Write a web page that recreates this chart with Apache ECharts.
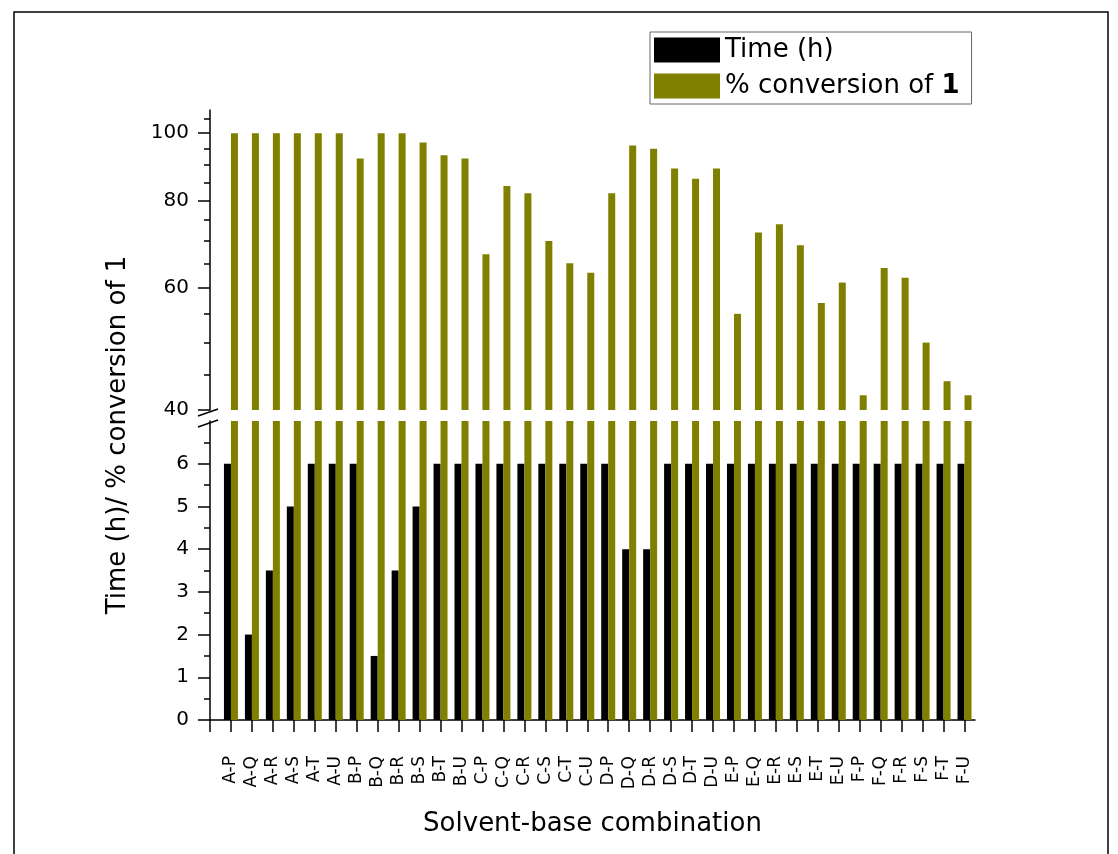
<!DOCTYPE html>
<html>
<head>
<meta charset="UTF-8">
<title>Solvent-base combination</title>
<script src="https://cdn.jsdelivr.net/npm/echarts@6/dist/echarts.min.js"></script>
<style>
  html, body { margin: 0; padding: 0; background: #fff; }
  #chart { width: 1118px; height: 854px; }
</style>
</head>
<body>
<div id="chart"></div>
<script type="text/javascript">

  // data
  var categories = ['A-P','A-Q','A-R','A-S','A-T','A-U',
                    'B-P','B-Q','B-R','B-S','B-T','B-U',
                    'C-P','C-Q','C-R','C-S','C-T','C-U',
                    'D-P','D-Q','D-R','D-S','D-T','D-U',
                    'E-P','E-Q','E-R','E-S','E-T','E-U',
                    'F-P','F-Q','F-R','F-S','F-T','F-U'];
  var timeH = [6, 2, 3.5, 5, 6, 6,
               6, 1.5, 3.5, 5, 6, 6,
               6, 6, 6, 6, 6, 6,
               6, 4, 4, 6, 6, 6,
               6, 6, 6, 6, 6, 6,
               6, 6, 6, 6, 6, 6];
  var conversion = [100, 100, 100, 100, 100, 100,
                    92, 100, 100, 97, 93, 92,
                    67, 84, 82, 70, 65, 63,
                    82, 96, 95, 89, 86, 89,
                    55, 72, 74, 69, 57, 61,
                    42, 64, 62, 50, 44, 42];
  var upperTicks = [40, 60, 80, 100];
  var upperMinorTicks = [45, 50, 55, 65, 70, 75, 85, 90, 95, 105];
  var lowerTicks = [0, 1, 2, 3, 4, 5, 6];

  var timeName = 'Time (h)',
      convName = '% conversion of 1',
      font = 'DejaVu Sans';

  // bars sit on a value x axis, category i at position i+1
  var xPos = [0], labelPos = [];
  var timePairs = [], convPairs = [];
  for (var i = 0; i < categories.length; i++) {
    xPos.push(i + 1);
    labelPos.push(i + 1);
    timePairs.push([i + 1, timeH[i]]);
    convPairs.push([i + 1, conversion[i]]);
  }

  var axisLine = { show: true, lineStyle: { color: '#000', width: 1.5 } };
  var tickLine = { color: '#000', width: 1.5 };

  var myChart = echarts.init(document.getElementById('chart'));

  var option = {
      animation: false,
      backgroundColor: '#fff',
      textStyle: { fontFamily: font },
      legend: {
          orient: 'vertical',
          left: 650,
          top: 32,
          padding: [5, 12, 5, 4],
          itemWidth: 66,
          itemHeight: 25,
          itemGap: 10,
          itemStyle: { borderWidth: 0 },
          icon: 'rect',
          borderColor: '#666',
          borderWidth: 1,
          data: [timeName, convName],
          formatter: function (name) {
              return name === convName ? '% conversion of {b|1}' : name;
          },
          textStyle: {
              fontFamily: font, fontSize: 26, color: '#000',
              rich: { b: { fontFamily: font, fontSize: 26, fontWeight: 'bold', color: '#000' } }
          }
      },
      grid: [
          { left: 210, right: 143, top: 110, height: 300 },
          { left: 210, right: 143, top: 421, height: 299 }
      ],
      xAxis: [
          {
              gridIndex: 0, type: 'value', min: 0, max: 36.5,
              axisLine: { show: false }, axisTick: { show: false },
              axisLabel: { show: false }, splitLine: { show: false }
          },
          {
              gridIndex: 1, type: 'value', min: 0, max: 36.5,
              axisLine: axisLine,
              axisTick: { show: true, length: 12, lineStyle: tickLine, customValues: xPos },
              axisLabel: {
                  customValues: labelPos,
                  rotate: 90, margin: 36,
                  fontFamily: font, fontSize: 17, color: '#000',
                  formatter: function (v) { return categories[v - 1] || ''; }
              },
              splitLine: { show: false },
              name: 'Solvent-base combination',
              nameLocation: 'middle',
              nameGap: 91,
              nameTextStyle: { fontFamily: font, fontSize: 26, color: '#000' }
          }
      ],
      yAxis: [
          {
              gridIndex: 0, type: 'log', logBase: 10, min: 40, max: 108,
              axisLine: axisLine,
              axisTick: { show: true, length: 12, lineStyle: tickLine, customValues: upperTicks },
              axisLabel: { customValues: upperTicks, margin: 21, fontFamily: font, fontSize: 20, color: '#000' },
              splitLine: { show: false }
          },
          {
              gridIndex: 0, type: 'log', logBase: 10, min: 40, max: 108, position: 'left',
              axisLine: { show: false },
              axisTick: { show: true, length: 6, lineStyle: tickLine, customValues: upperMinorTicks },
              axisLabel: { show: false },
              splitLine: { show: false }
          },
          {
              gridIndex: 1, type: 'value', min: 0, max: 7, interval: 1,
              axisLine: axisLine,
              axisTick: { show: true, length: 12, lineStyle: tickLine, customValues: lowerTicks },
              minorTick: { show: true, splitNumber: 2, length: 6, lineStyle: tickLine },
              axisLabel: { customValues: lowerTicks, margin: 21, fontFamily: font, fontSize: 20, color: '#000' },
              splitLine: { show: false }
          }
      ],
      graphic: [
          {
              type: 'rect', silent: true,
              shape: { x: 14, y: 12, width: 1094, height: 850 },
              style: { fill: 'none', stroke: '#000', lineWidth: 1.5 }
          },
          {
              type: 'text', x: 118, y: 435, rotation: Math.PI / 2, silent: true,
              style: {
                  text: 'Time (h)/ % conversion of 1',
                  fontFamily: font, fontSize: 26, fill: '#000',
                  align: 'center', verticalAlign: 'middle',
                  textAlign: 'center', textVerticalAlign: 'middle'
              }
          },
          {
              type: 'line', silent: true,
              shape: { x1: 198, y1: 416, x2: 218, y2: 409 },
              style: { stroke: '#000', lineWidth: 1.5 }
          },
          {
              type: 'line', silent: true,
              shape: { x1: 198, y1: 427, x2: 218, y2: 420 },
              style: { stroke: '#000', lineWidth: 1.5 }
          }
      ],
      series: [
          {
              name: timeName, type: 'bar', xAxisIndex: 0, yAxisIndex: 0,
              barWidth: 7, barGap: '0%', itemStyle: { color: '#000' }, data: timePairs
          },
          {
              name: convName, type: 'bar', xAxisIndex: 0, yAxisIndex: 0,
              barWidth: 7, barGap: '0%', itemStyle: { color: '#808000' }, data: convPairs
          },
          {
              name: timeName, type: 'bar', xAxisIndex: 1, yAxisIndex: 2,
              barWidth: 7, barGap: '0%', itemStyle: { color: '#000' }, data: timePairs
          },
          {
              name: convName, type: 'bar', xAxisIndex: 1, yAxisIndex: 2,
              barWidth: 7, barGap: '0%', itemStyle: { color: '#808000' }, data: convPairs
          }
      ]
  };

  myChart.setOption(option);

</script>
</body>
</html>
